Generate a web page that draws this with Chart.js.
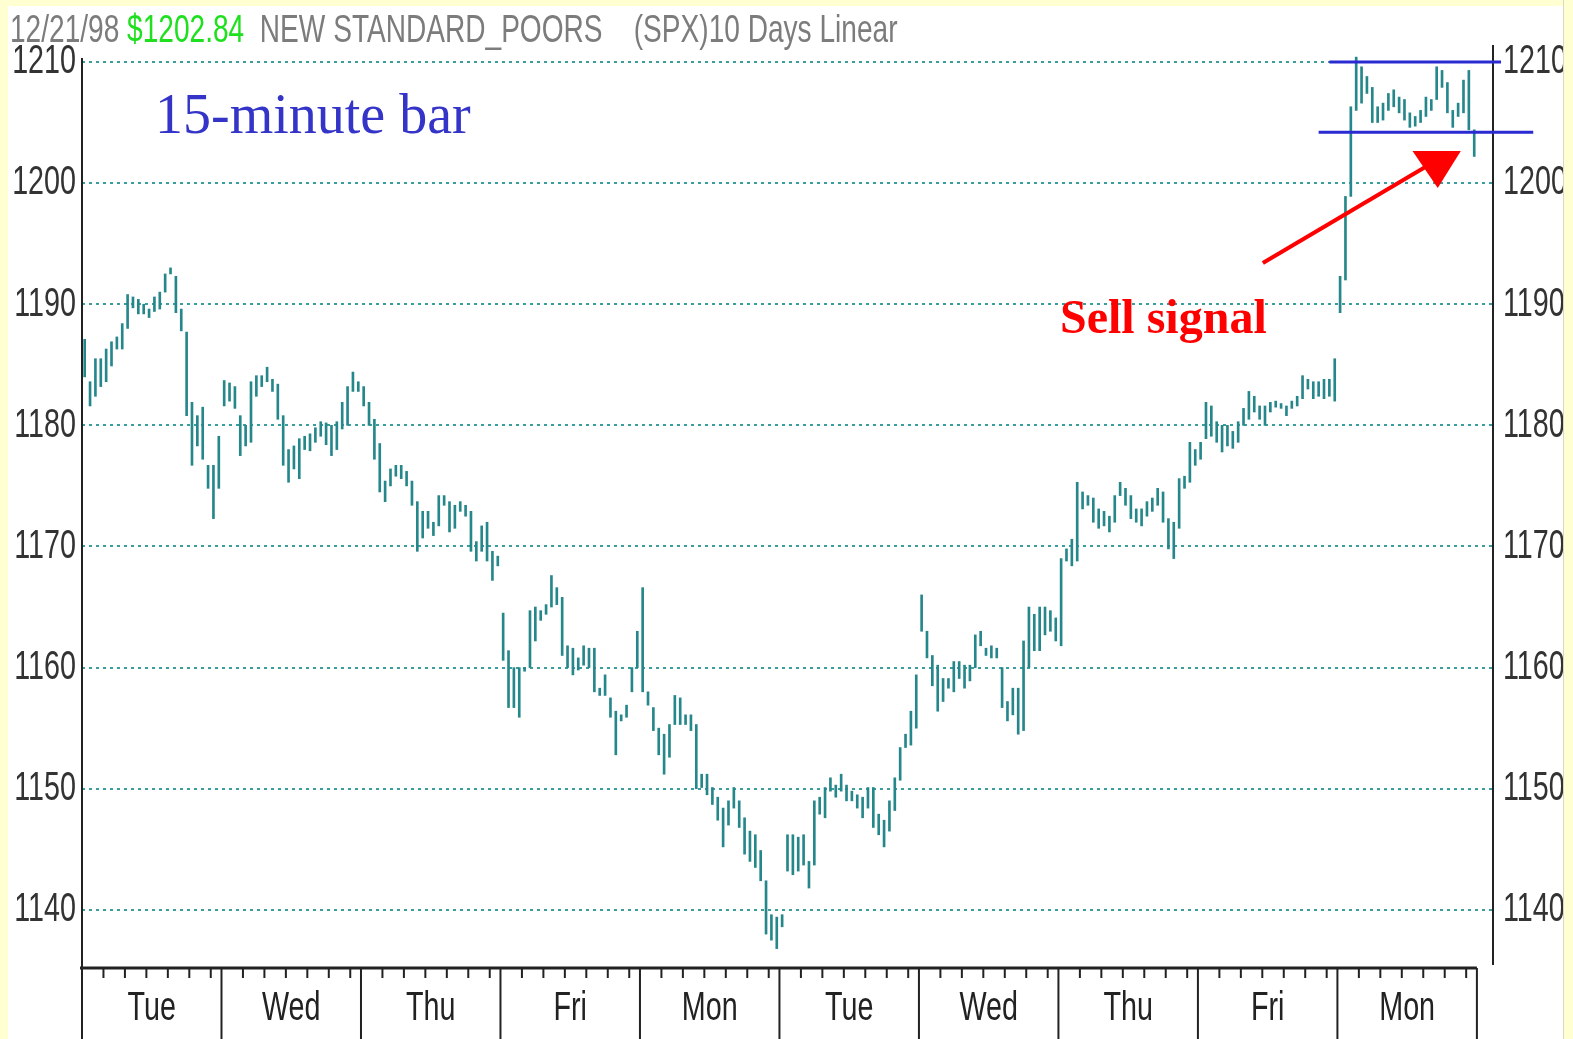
<!DOCTYPE html>
<html>
<head>
<meta charset="utf-8">
<script src="https://cdn.jsdelivr.net/npm/chart.js@4.4.1/dist/chart.umd.min.js"></script>
<style>
  body { margin: 0; background: #ffffd2; width: 1573px; height: 1039px; overflow: hidden; position: relative; }
  #paper { position: absolute; left: 8px; top: 6px; width: 1555px; height: 1033px; background: #fff; }
  #c { position: absolute; left: 0; top: 0; }
  #head { position: absolute; left: 10px; top: 9px; font: 39px/39px "Liberation Sans", Arial, sans-serif; color: #7c7c7c; white-space: pre; transform: scaleX(0.72); transform-origin: 0 0; }
  #head .px { color: #1ee01e; }
  #tag { position: absolute; left: 155px; top: 86px; font: 56px/56px "Liberation Serif", "Times New Roman", serif; color: #3434c8; white-space: pre; }
  #sell { position: absolute; left: 1060px; top: 293px; font: bold 48px/48px "Liberation Serif", "Times New Roman", serif; color: #ff0000; white-space: pre; }
  #edge { position: absolute; left: 1563px; top: 0; width: 10px; height: 1039px; background: #ffffd2; border-left: 1px solid #d8d8c8; }
</style>
</head>
<body>
<div id="paper"></div>
<canvas id="c" width="1573" height="1039"></canvas>
<div id="head">12/21/98 <span class="px">$1202.84</span>  NEW STANDARD_POORS    (SPX)10 Days Linear</div>
<div id="tag">15-minute bar</div>
<div id="sell">Sell signal</div>
<div id="edge"></div>
<script>
// 10 trading days of 15-minute bars, SPX, ending 12/21/98
const days = ["Tue", "Wed", "Thu", "Fri", "Mon", "Tue", "Wed", "Thu", "Fri", "Mon"];
const barsPerDay = 26;
const yTicks = [1140, 1150, 1160, 1170, 1180, 1190, 1200, 1210];

// bar lows, one row per day
const lows = [
  [1184.0,1181.6,1182.4,1183.2,1183.6,1184.9,1186.3,1186.3,1188.0,1189.7,1189.2,1189.2,1188.9,1189.4,1189.6,1191.0,1192.5,1189.3,1187.8,1180.8,1176.7,1178.3,1177.2,1174.8,1172.3,1174.8],
  [1181.6,1182.0,1181.4,1177.5,1178.3,1178.6,1182.4,1183.2,1183.6,1182.8,1180.5,1176.7,1175.3,1176.4,1175.6,1178.0,1177.9,1178.6,1179.1,1178.4,1177.5,1178.0,1179.7,1180.0,1182.8,1182.8],
  [1181.6,1180.0,1177.2,1174.5,1173.7,1175.0,1175.8,1175.6,1175.0,1173.4,1169.6,1170.7,1171.5,1170.9,1171.7,1173.4,1171.2,1171.5,1172.9,1172.5,1169.6,1168.8,1169.6,1168.8,1167.2,1168.4],
  [1160.6,1156.7,1156.7,1155.9,1159.7,1160.0,1162.2,1163.9,1164.4,1165.0,1165.2,1161.0,1160.0,1159.4,1159.8,1160.2,1160.0,1158.0,1157.7,1157.7,1155.9,1152.8,1155.6,1155.9,1158.0,1160.0],
  [1158.0,1156.9,1154.8,1152.8,1151.2,1152.6,1155.3,1155.3,1155.3,1154.8,1150.0,1150.1,1149.5,1148.7,1147.4,1145.2,1147.0,1148.4,1146.8,1144.6,1144.0,1143.5,1142.4,1138.0,1137.5,1136.8],
  [1138.6,1143.2,1142.9,1143.2,1143.7,1141.8,1143.7,1147.9,1147.6,1149.8,1149.3,1149.8,1149.0,1149.0,1148.4,1147.6,1148.4,1146.8,1146.2,1145.2,1146.5,1148.2,1150.7,1153.4,1153.6,1155.0],
  [1163.0,1160.8,1158.5,1156.4,1157.2,1158.3,1158.0,1159.1,1158.3,1158.9,1160.0,1161.8,1161.0,1160.8,1160.8,1156.7,1155.6,1156.1,1154.5,1154.8,1160.0,1161.4,1161.4,1162.7,1163.0,1162.2],
  [1161.8,1168.8,1168.4,1168.8,1173.1,1173.4,1172.0,1171.5,1171.7,1171.2,1172.0,1174.2,1173.4,1172.3,1172.0,1171.7,1172.5,1172.9,1173.4,1172.0,1169.8,1169.0,1171.5,1174.8,1175.3,1176.7],
  [1177.2,1178.9,1179.1,1178.6,1177.8,1178.3,1178.1,1178.6,1180.0,1180.5,1181.1,1180.5,1180.0,1181.1,1181.5,1181.4,1180.8,1181.4,1181.6,1182.2,1183.0,1182.2,1182.4,1182.2,1182.4,1182.0],
  [1189.3,1192.0,1198.9,1206.0,1206.6,1207.4,1205.0,1205.0,1205.2,1206.0,1206.3,1205.8,1205.2,1204.6,1204.7,1205.0,1205.5,1206.0,1206.9,1207.9,1205.8,1204.6,1205.5,1205.8,1204.4,1202.2],
];

// bar highs, one row per day
const highs = [
  [1187.1,1183.6,1185.5,1185.5,1186.3,1186.9,1187.3,1188.4,1190.8,1190.6,1190.4,1190.0,1189.6,1190.6,1191.0,1192.5,1193.0,1192.3,1189.6,1187.7,1181.9,1180.8,1181.5,1176.7,1176.7,1179.1],
  [1183.7,1183.5,1183.2,1180.8,1180.0,1183.6,1184.1,1184.1,1184.8,1183.8,1183.4,1180.8,1178.0,1178.3,1178.9,1179.1,1179.3,1179.8,1180.3,1180.2,1180.0,1180.3,1181.9,1183.2,1184.4,1183.6],
  [1183.2,1181.9,1180.5,1178.5,1175.4,1176.4,1176.7,1176.7,1176.2,1175.4,1173.7,1172.9,1172.9,1172.0,1174.2,1174.2,1173.7,1173.4,1173.7,1173.4,1172.9,1170.4,1171.7,1172.0,1169.6,1169.2],
  [1164.5,1161.4,1160.0,1160.0,1160.0,1164.7,1165.0,1164.7,1165.2,1167.6,1166.6,1165.8,1161.8,1161.6,1160.8,1161.8,1161.6,1161.6,1158.3,1159.4,1157.5,1156.4,1156.1,1156.9,1160.0,1163.0],
  [1166.6,1158.0,1156.7,1155.0,1154.5,1155.3,1157.7,1157.5,1156.1,1156.1,1155.3,1151.2,1151.2,1150.1,1149.3,1148.4,1149.0,1150.1,1149.0,1147.6,1146.5,1146.2,1144.9,1142.4,1139.6,1139.4],
  [1139.6,1146.2,1146.2,1146.0,1146.2,1144.0,1149.0,1149.3,1150.1,1150.9,1150.3,1151.2,1150.3,1149.8,1149.5,1149.3,1150.1,1150.1,1147.9,1147.4,1149.0,1150.9,1153.4,1154.5,1156.4,1159.4],
  [1166.0,1163.0,1161.0,1160.2,1159.1,1159.1,1160.5,1160.5,1160.2,1160.2,1162.7,1163.0,1161.6,1161.8,1161.6,1160.0,1157.2,1158.3,1158.3,1162.2,1165.0,1164.4,1165.0,1165.0,1164.7,1164.1],
  [1169.0,1169.8,1170.6,1175.3,1174.5,1174.2,1174.0,1173.1,1172.9,1172.5,1174.2,1175.3,1174.8,1174.2,1173.1,1173.1,1173.7,1174.0,1174.8,1174.5,1172.3,1172.0,1175.6,1175.8,1178.6,1178.0],
  [1178.6,1181.9,1181.6,1180.3,1180.0,1180.0,1179.5,1180.3,1181.4,1182.8,1182.4,1181.6,1181.6,1181.9,1182.0,1181.8,1181.6,1182.0,1182.4,1184.1,1183.8,1183.6,1183.6,1183.8,1183.8,1185.5],
  [1192.3,1198.9,1206.3,1210.4,1209.6,1208.8,1207.9,1206.3,1206.6,1207.4,1207.7,1207.1,1206.9,1205.8,1205.5,1206.0,1207.1,1206.9,1209.6,1209.3,1208.3,1206.0,1206.6,1208.5,1209.3,1204.4],
];

// drawn-in channel and sell arrow (bar index, price)
const channelTop = { from: 232, to: 264, price: 1210 };
const channelBottom = { from: 230, to: 270, price: 1204.2 };
const arrowTail = [219.6, 1193.4];
const arrowHead = [[247.5, 1202.65], [256.5, 1202.65], [252.2, 1199.6]];

const padBars = 3; // empty room before the right axis
const labels = [];
days.forEach((d) => { for (let i = 0; i < barsPerDay; i++) labels.push(d); });
for (let i = 0; i < padBars; i++) labels.push("");
const bars = lows.flat().map((l, i) => [l, highs.flat()[i]]);
for (let i = 0; i < padBars; i++) bars.push(null);

const ink = "#222";
const labelFont = '41px "Liberation Sans", Arial, sans-serif';

// narrow text like the old charting font: squeeze horizontally
function narrowText(ctx, text, x, y, align, color) {
  ctx.save();
  ctx.translate(x, y);
  ctx.scale(0.7, 1);
  ctx.font = labelFont;
  ctx.fillStyle = color;
  ctx.textAlign = align;
  ctx.textBaseline = "middle";
  ctx.fillText(text, 0, 0);
  ctx.restore();
}

const frame = {
  id: "frame",
  afterDatasetsDraw(chart) {
    const { ctx, chartArea: a, scales } = chart;
    const xs = scales.x, ys = scales.y;
    ctx.save();
    ctx.strokeStyle = ink;
    ctx.lineWidth = 2;
    // axis lines
    ctx.beginPath();
    ctx.moveTo(a.left, ys.getPixelForValue(1210) - 4);
    ctx.lineTo(a.left, chart.height);
    ctx.moveTo(a.right, a.top);
    ctx.lineTo(a.right, a.bottom - 3);
    ctx.stroke();
    // price labels on both sides
    ys.ticks.forEach((t) => {
      const y = ys.getPixelForValue(t.value);
      narrowText(ctx, String(t.value), a.left - 6, y, "right", "#333");
      narrowText(ctx, String(t.value), a.right + 10, y, "left", "#333");
    });
    // day box along the bottom
    const end = xs.getPixelForValue(days.length * barsPerDay - 0.5);
    ctx.lineWidth = 3;
    ctx.beginPath();
    ctx.moveTo(a.left - 2, a.bottom);
    ctx.lineTo(end, a.bottom);
    ctx.stroke();
    ctx.lineWidth = 2;
    ctx.beginPath();
    for (let d = 1; d <= days.length; d++) {
      const bx = xs.getPixelForValue(d * barsPerDay - 0.5);
      ctx.moveTo(bx, a.bottom);
      ctx.lineTo(bx, chart.height);
    }
    for (let d = 0; d < days.length; d++) {
      for (let k = 1; k <= 6; k++) {
        const tx = xs.getPixelForValue(d * barsPerDay + k * 4 - 0.5);
        ctx.moveTo(tx, a.bottom);
        ctx.lineTo(tx, a.bottom + 10);
      }
    }
    ctx.stroke();
    days.forEach((d, i) => {
      const cx = xs.getPixelForValue(i * barsPerDay + (barsPerDay - 1) / 2);
      narrowText(ctx, d, cx, a.bottom + 41, "center", ink);
    });
    // channel lines
    ctx.strokeStyle = "#2a2ad2";
    ctx.lineWidth = 3;
    ctx.beginPath();
    [channelTop, channelBottom].forEach((c) => {
      const y = ys.getPixelForValue(c.price);
      ctx.moveTo(xs.getPixelForValue(c.from), y);
      ctx.lineTo(xs.getPixelForValue(c.to), y);
    });
    ctx.stroke();
    // sell arrow
    const p = (pt) => [xs.getPixelForValue(pt[0]), ys.getPixelForValue(pt[1])];
    const t = p(arrowTail);
    const h = arrowHead.map(p);
    const mid = [(h[0][0] + h[1][0]) / 2, h[0][1]];
    ctx.strokeStyle = "#ff0000";
    ctx.fillStyle = "#ff0000";
    ctx.lineWidth = 4;
    ctx.beginPath();
    ctx.moveTo(t[0], t[1]);
    ctx.lineTo(mid[0] - 8, mid[1] + 14);
    ctx.stroke();
    ctx.beginPath();
    ctx.moveTo(h[0][0], h[0][1]);
    ctx.lineTo(h[1][0], h[1][1]);
    ctx.lineTo(h[2][0], h[2][1]);
    ctx.closePath();
    ctx.fill();
    ctx.restore();
  },
};

new Chart(document.getElementById("c"), {
  type: "bar",
  data: {
    labels,
    datasets: [
      {
        data: bars,
        backgroundColor: "#26878a",
        borderWidth: 0,
        barThickness: 2,
      },
    ],
  },
  options: {
    responsive: false,
    animation: false,
    layout: { padding: { top: 45 } },
    plugins: { legend: { display: false }, tooltip: { enabled: false } },
    scales: {
      x: {
        grid: { display: false },
        border: { display: false },
        ticks: { display: false },
        afterFit: (s) => { s.height = 71; },
      },
      y: {
        min: 1135.2,
        max: 1211.4,
        afterFit: (s) => { s.width = 82; },
        afterBuildTicks: (s) => { s.ticks = yTicks.map((v) => ({ value: v })); },
        grid: { color: "#3a9e9e", lineWidth: 2, drawTicks: false },
        border: { display: false, dash: [3, 4] },
        ticks: { display: false },
      },
      y2: {
        position: "right",
        min: 1135.2,
        max: 1211.4,
        afterFit: (s) => { s.width = 80; },
        grid: { display: false },
        border: { display: false },
        ticks: { display: false },
      },
    },
  },
  plugins: [frame],
});
</script>
</body>
</html>
